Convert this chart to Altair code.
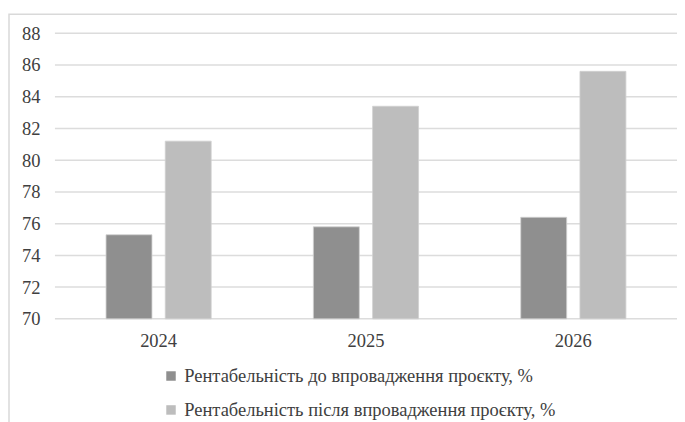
import altair as alt
import pandas as pd

years = ["2024", "2025", "2026"]
series = ["Рентабельність до впровадження проєкту, %",
          "Рентабельність після впровадження проєкту, %"]
before = [75.3, 75.8, 76.4]
after = [81.2, 83.4, 85.6]
y_ticks = [70, 72, 74, 76, 78, 80, 82, 84, 86, 88]
colors = ["#8f8f8f", "#bdbdbd"]

rows = []
for i, yr in enumerate(years):
    rows.append({"year": yr, "series": series[0], "value": before[i]})
    rows.append({"year": yr, "series": series[1], "value": after[i]})
df = pd.DataFrame(rows)
grid_df = pd.DataFrame({"tick": y_ticks})

FONT = "Liberation Serif, DejaVu Serif, serif"
TXT = "#404040"
FS = 18.5
YSCALE = alt.Scale(domain=[70, 88], nice=False, zero=False)
YAXIS = alt.Axis(values=y_ticks, domain=False, ticks=False, grid=False,
                 labelPadding=15, labelFontSize=FS, labelFont=FONT, labelColor=TXT)

frame = alt.Chart(pd.DataFrame({"a": [0]})).mark_rect(
    fill="transparent", stroke="#d9d9d9", strokeWidth=1.5
).encode(x=alt.value(-46), x2=alt.value(720), y=alt.value(-19), y2=alt.value(520))

grid = alt.Chart(grid_df).mark_rule(color="#dcdcdc", strokeWidth=1.5).encode(
    y=alt.Y("tick:Q", scale=YSCALE, title=None, axis=YAXIS),
)

bars = alt.Chart(df).mark_bar(stroke="#d0d0d0", strokeWidth=0.8).encode(
    x=alt.X("year:N", sort=years, title=None,
            scale=alt.Scale(paddingInner=0, paddingOuter=0),
            axis=alt.Axis(labelAngle=0, domain=False, ticks=False, labelPadding=13,
                          labelFontSize=FS, labelFont=FONT, labelColor=TXT)),
    xOffset=alt.XOffset("series:N", sort=series,
                        scale=alt.Scale(paddingInner=0.224, paddingOuter=0.863)),
    y=alt.Y("value:Q", title=None, scale=YSCALE, axis=YAXIS),
    y2=alt.Y2(datum=70),
    color=alt.Color("series:N", sort=series,
                    scale=alt.Scale(domain=series, range=colors),
                    legend=alt.Legend(title=None, orient="none", legendX=107, legendY=334,
                                      direction="vertical", symbolType="square",
                                      symbolSize=90, symbolStrokeWidth=0,
                                      labelFont=FONT, labelFontSize=FS, labelColor=TXT,
                                      labelLimit=600, rowPadding=15, labelOffset=4)),
)

chart = alt.layer(frame, grid, bars).properties(
    width=623, height=286,
    autosize=alt.AutoSizeParams(type="none"),
    padding={"left": 47, "top": 25, "right": 0, "bottom": 104},
).configure(font=FONT).configure_view(stroke=None).configure_axis(
    labelFont=FONT).configure_legend(labelFont=FONT)

chart.save("out.html", embed_options={"renderer": "svg", "actions": False})
